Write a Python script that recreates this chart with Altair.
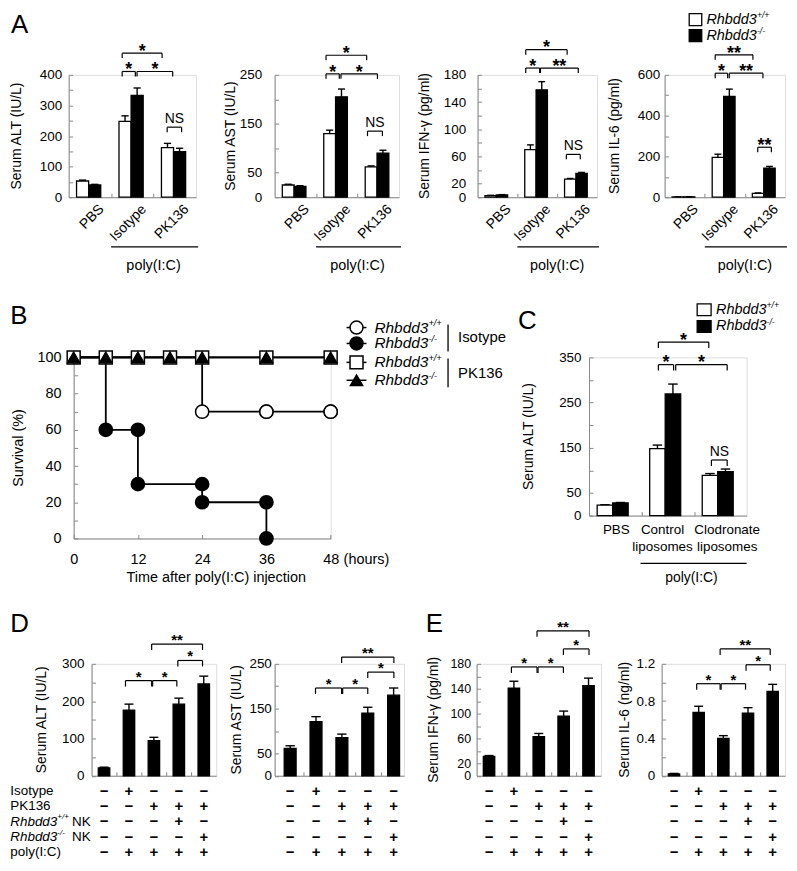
import altair as alt
import pandas as pd

FONT = "Liberation Sans"
WHITE = "#ffffff"
BLACK = "#000000"

# ---------------- Panel A ----------------
A_GROUPS = ["PBS", "Isotype", "PK136"]
ALT_WT = [53, 248, 162]
ALT_WT_ERR = [3, 18, 14]
ALT_KO = [40, 333, 149]
ALT_KO_ERR = [2, 24, 11]
AST_WT = [25, 130, 62]
AST_WT_ERR = [1.5, 7, 2]
AST_KO = [22, 205, 90]
AST_KO_ERR = [1.5, 16, 6]
IFN_WT = [2.3, 70, 26.6]
IFN_WT_ERR = [0.5, 7, 1]
IFN_KO = [3.3, 158, 35]
IFN_KO_ERR = [0.5, 12, 1.5]
IL6_WT = [2, 195, 19]
IL6_WT_ERR = [0.5, 16, 2]
IL6_KO = [2, 494, 143]
IL6_KO_ERR = [0.5, 36, 8]
# significance brackets: (from, to, level, label)
ALT_BR = [(1.26, 1.57, 411, "*"), (1.61, 2.45, 411, "*"), (1.26, 2.2, 471, "*"), (2.32, 2.66, 229, "NS")]
AST_BR = [(1.24, 1.56, 252, "*"), (1.6, 2.48, 252, "*"), (1.24, 2.22, 290, "*"), (2.24, 2.6, 135, "NS")]
IFN_BR = [(1.21, 1.56, 190, "*"), (1.58, 2.53, 190, "**"), (1.21, 2.25, 217, "*"), (2.23, 2.58, 63, "NS")]
IL6_BR = [(1.26, 1.57, 608, "*"), (1.61, 2.45, 608, "**"), (1.26, 2.2, 698, "**"), (2.32, 2.66, 245, "**")]

# ---------------- Panel B (survival, %) ----------------
B_TIME_WT_ISO = [0, 24, 36, 48]
B_SURV_WT_ISO = [100, 70, 70, 70]
B_TIME_KO_ISO = [0, 6, 12, 24, 36]
B_SURV_KO_ISO = [100, 60, 30, 20, 0]
B_TIME_PK = [0, 6, 12, 18, 24, 36, 48]
B_SURV_PK_WT = [100, 100, 100, 100, 100, 100, 100]
B_SURV_PK_KO = [100, 100, 100, 100, 100, 100, 100]

# ---------------- Panel C ----------------
C_LINE1 = ["PBS", "Control", "Clodronate"]
C_LINE2 = ["", "liposomes", "liposomes"]
C_LABEL_X = [0.52, 1.4, 2.63]
C_WT = [23, 148, 89]
C_WT_ERR = [1, 8, 4]
C_KO = [28, 269, 97]
C_KO_ERR = [1, 22, 6]
C_BR = [(1.32, 1.61, 334, "*"), (1.65, 2.63, 334, "*"), (1.32, 2.28, 384, "*"), (2.33, 2.63, 123, "NS")]

# ---------------- Panels D / E ----------------
D_ALT = [21, 176, 94, 192, 246]
D_ALT_ERR = [2, 16, 9, 16, 21]
D_AST = [61, 121, 85, 140, 180]
D_AST_ERR = [6, 11, 8, 13, 16]
E_IFN = [31, 141, 63, 96, 145]
E_IFN_ERR = [1.5, 11, 5, 8, 12]
E_IL6 = [0.02, 0.68, 0.40, 0.67, 0.905]
E_IL6_ERR = [0.005, 0.065, 0.03, 0.06, 0.075]
D_ALT_BR = [(1.36, 2.41, 255, "*"), (2.45, 3.42, 255, "*"), (3.46, 4.45, 309, "*"), (2.41, 4.45, 353, "**")]
D_AST_BR = [(1.48, 2.49, 196, "*"), (2.53, 3.5, 196, "*"), (3.5, 4.51, 231.5, "*"), (2.49, 4.51, 265, "**")]
E_IFN_BR = [(1.4, 2.43, 175, "*"), (2.47, 3.49, 175, "*"), (3.49, 4.52, 204, "*"), (2.43, 4.52, 233, "**")]
E_IL6_BR = [(1.42, 2.37, 0.987, "*"), (2.41, 3.4, 0.987, "*"), (3.42, 4.4, 1.19, "*"), (2.37, 4.4, 1.36, "**")]
TABLE_ROWS = ["Isotype", "PK136", "Rhbdd3 +/+ NK", "Rhbdd3 -/- NK", "poly(I:C)"]
T_ISOTYPE = [0, 1, 0, 0, 0]
T_PK136 = [0, 0, 1, 1, 1]
T_WT_NK = [0, 0, 0, 1, 0]
T_KO_NK = [0, 0, 0, 0, 1]
T_POLY = [0, 1, 1, 1, 1]
TABLE = [T_ISOTYPE, T_PK136, T_WT_NK, T_KO_NK, T_POLY]
ROW_DY = [15, 30.5, 46, 61.5, 77]


# ---------------- helpers ----------------
def one():
    return alt.Data(values=[{"s": 0}])


def spacer(W, H, L, R, T, B):
    return alt.Chart(one()).mark_rule(opacity=0, strokeWidth=0).encode(
        x=alt.value(-L), x2=alt.value(W + R), y=alt.value(-T), y2=alt.value(H + B))


def dummy(H, T, B):
    # thin empty first column so that every row starts at the same left edge
    return alt.layer(spacer(1, H, 0, 0, T, B)).properties(
        width=1, height=H,
        view=alt.ViewBackground(stroke="transparent", strokeWidth=0, fill="transparent"))


def label(text, x, y, size=14, align="center", baseline="middle", angle=0,
          style="normal", weight="normal"):
    return alt.Chart(alt.Data(values=[{"t": text}])).mark_text(
        font=FONT, fontSize=size, align=align, baseline=baseline, angle=angle,
        fontStyle=style, fontWeight=weight, color=BLACK).encode(
        x=alt.value(x), y=alt.value(y), text="t:N")


def geno(x, y, sup, size=15, tail=""):
    w = 3.5 * size
    layers = [label("Rhbdd3", x, y, size, align="left", style="italic"),
              label(sup, x + w, y - size * 0.3, size * 0.6, align="left", style="italic")]
    if tail:
        layers.append(label(tail, x + w + size * 1.1, y, size, align="left"))
    return layers


def box(x1, x2, y1, y2, fill):
    return alt.Chart(one()).mark_rect(fill=fill, stroke=BLACK, strokeWidth=1.3).encode(
        x=alt.value(x1), x2=alt.value(x2), y=alt.value(y1), y2=alt.value(y2))


def yaxis(values, shown, pad, size=13.5):
    cond = " || ".join("datum.value == %s" % v for v in shown)
    return alt.Axis(values=values, labelExpr="(%s) ? ('' + datum.value) : ''" % cond,
                    title=None, grid=False, tickSize={"expr": "-4"}, labelPadding=pad,
                    labelOverlap=False, labelFlush=False, labelFontSize=size)


def xaxis(values):
    return alt.Axis(values=values, labels=False, title=None, grid=False,
                    tickSize={"expr": "-4"})


def grouped_df(wt, wt_err, ko, ko_err, center, bw, capw):
    rows = []
    for g in range(len(wt)):
        for k, (vals, errs, fill) in enumerate([(wt, wt_err, WHITE), (ko, ko_err, BLACK)]):
            c = g + center + (k - 0.5) * bw
            rows.append(dict(xa=c - bw / 2, xb=c + bw / 2, xc=c, ca=c - capw / 2, cb=c + capw / 2,
                             v=vals[g], top=vals[g] + errs[g], zero=0, fill=fill))
    return pd.DataFrame(rows)


def single_df(vals, errs, bw, capw):
    rows = []
    for i, (v, e) in enumerate(zip(vals, errs)):
        c = i + 0.5
        rows.append(dict(xa=c - bw / 2, xb=c + bw / 2, xc=c, ca=c - capw / 2, cb=c + capw / 2,
                         v=v, top=v + e, zero=0, fill=BLACK))
    return pd.DataFrame(rows)


def bar_cell(df, xdom, ydom, W, H, yvals, yshown, lpad, xticks, brackets, drop_px,
             star_size, star_dy, frame, ytitle, ytitle_x, extras=None, tick_font=13.5):
    xs = alt.Scale(domain=xdom, nice=False, zero=False)
    ys = alt.Scale(domain=ydom, nice=False, zero=False)
    xax = xaxis(xticks)
    yax = yaxis(yvals, yshown, lpad, tick_font)

    def X(f):
        return alt.X(f + ":Q", scale=xs, axis=xax)

    def Y(f):
        return alt.Y(f + ":Q", scale=ys, axis=yax)

    base = alt.Chart(df)
    layers = [
        spacer(W, H, *frame),
        base.mark_rule(color=BLACK, strokeWidth=1.4).encode(x=X("xc"), y=Y("v"), y2=alt.Y2("top")),
        base.mark_rule(color=BLACK, strokeWidth=1.4).encode(x=X("ca"), x2=alt.X2("cb"), y=Y("top")),
        base.mark_rect(stroke=BLACK, strokeWidth=1.3).encode(
            x=X("xa"), x2=alt.X2("xb"), y=Y("zero"), y2=alt.Y2("v"),
            fill=alt.Fill("fill:N", scale=None)),
    ]
    drop = drop_px * (ydom[1] - ydom[0]) / H
    segs, labs = [], []
    for (a, b, lv, lab) in brackets:
        segs.append(dict(bx=a, bx2=b, by=lv, by2=lv))
        segs.append(dict(bx=a, bx2=a, by=lv, by2=lv - drop))
        segs.append(dict(bx=b, bx2=b, by=lv, by2=lv - drop))
        labs.append(dict(xm=(a + b) / 2, ly=lv, lab=lab))
    layers.append(alt.Chart(pd.DataFrame(segs)).mark_rule(color=BLACK, strokeWidth=1.2).encode(
        x=X("bx"), x2=alt.X2("bx2"), y=Y("by"), y2=alt.Y2("by2")))
    ldf = pd.DataFrame(labs)
    sdf = ldf[ldf["lab"] != "NS"]
    ndf = ldf[ldf["lab"] == "NS"]
    if len(sdf):
        layers.append(alt.Chart(sdf).mark_text(font=FONT, fontSize=star_size, fontWeight="bold",
                                               baseline="alphabetic", dy=star_dy, color=BLACK).encode(
            x=X("xm"), y=Y("ly"), text="lab:N"))
    if len(ndf):
        layers.append(alt.Chart(ndf).mark_text(font=FONT, fontSize=14, baseline="alphabetic",
                                               dy=-4.4, color=BLACK).encode(
            x=X("xm"), y=Y("ly"), text="lab:N"))
    layers.append(label(ytitle, ytitle_x, H / 2, 14, angle=270))
    if extras:
        layers.extend(extras(X, H))
    return alt.layer(*layers).properties(width=W, height=H)


def a_extras(X, H):
    lab = pd.DataFrame({"lx": [g + 0.78 for g in range(len(A_GROUPS))], "name": A_GROUPS})
    cat = alt.Chart(lab).mark_text(font=FONT, fontSize=14, angle=315, align="right",
                                   baseline="middle", color=BLACK).encode(
        x=X("lx"), y=alt.value(H + 10), text="name:N")
    pr = alt.Chart(pd.DataFrame({"p0": [1.0], "p1": [3.05]})).mark_rule(color=BLACK, strokeWidth=1.3).encode(
        x=X("p0"), x2=alt.X2("p1"), y=alt.value(H + 50))
    pt = alt.Chart(pd.DataFrame({"px": [2.0], "t": ["poly(I:C)"]})).mark_text(
        font=FONT, fontSize=14.5, baseline="middle", color=BLACK).encode(
        x=X("px"), y=alt.value(H + 69), text="t:N")
    return [cat, pr, pt]


def c_extras(X, H):
    lab = pd.DataFrame({"lx": C_LABEL_X, "l1": C_LINE1, "l2": C_LINE2})
    t1 = alt.Chart(lab).mark_text(font=FONT, fontSize=13.5, baseline="middle", color=BLACK).encode(
        x=X("lx"), y=alt.value(H + 15), text="l1:N")
    t2 = alt.Chart(lab).mark_text(font=FONT, fontSize=13.5, baseline="middle", color=BLACK).encode(
        x=X("lx"), y=alt.value(H + 31.5), text="l2:N")
    pr = alt.Chart(pd.DataFrame({"p0": [0.98], "p1": [3.0]})).mark_rule(color=BLACK, strokeWidth=1.3).encode(
        x=X("p0"), x2=alt.X2("p1"), y=alt.value(H + 48))
    pt = alt.Chart(pd.DataFrame({"px": [1.95], "t": ["poly(I:C)"]})).mark_text(
        font=FONT, fontSize=14, baseline="middle", color=BLACK).encode(
        x=X("px"), y=alt.value(H + 63), text="t:N")
    return [t1, t2, pr, pt]


def table_extras(X, H):
    out = []
    for r, row in enumerate(TABLE):
        df = pd.DataFrame({"tx": [i + 0.5 for i in range(len(row))],
                           "sg": ["+" if v else "\u2212" for v in row]})
        out.append(alt.Chart(df).mark_text(font=FONT, fontSize=15, fontWeight="bold",
                                           baseline="middle", color=BLACK).encode(
            x=X("tx"), y=alt.value(H + ROW_DY[r]), text="sg:N"))
    return out


# ---------------- Row 1 : panel A ----------------
HA = 123
TA, BA = 63, 102


def a_cell(wt, wte, ko, koe, br, ydom, yvals, yshown, lpad, W, L, R, ytitle, tx, more=None):
    df = grouped_df(wt, wte, ko, koe, 0.47, 0.285, 0.17)
    return bar_cell(df, [0, 3], ydom, W, HA, yvals, yshown, lpad, [1, 2], br, 5, 18, 3.8,
                    (L, R, TA, BA), ytitle, tx,
                    extras=lambda X, H: a_extras(X, H) + (more or []))


a1 = a_cell(ALT_WT, ALT_WT_ERR, ALT_KO, ALT_KO_ERR, ALT_BR, [0, 400],
            [0, 50, 100, 150, 200, 250, 300, 350, 400], [0, 100, 200, 300, 400], 11,
            128, 58, 15, "Serum ALT (IU/L)", -52,
            more=[label("A", -58, -42, 26, align="left", baseline="alphabetic")])
a2 = a_cell(AST_WT, AST_WT_ERR, AST_KO, AST_KO_ERR, AST_BR, [0, 250],
            [0, 50, 100, 150, 200, 250], [0, 50, 150, 250], 17,
            125, 62, 10, "Serum AST (IU/L)", -44)
a3 = a_cell(IFN_WT, IFN_WT_ERR, IFN_KO, IFN_KO_ERR, IFN_BR, [0, 180],
            [0, 20, 40, 60, 80, 100, 120, 140, 160, 180], [0, 20, 60, 100, 140, 180], 16,
            120, 67, 5, "Serum IFN-\u03b3 (pg/ml)", -53)
legA = [box(24.7, 37.3, -61.5, -49.5, WHITE), box(24.7, 37.3, -45.5, -33.5, BLACK)]
legA += geno(42, -55.5, "+/+", 14.5) + geno(42, -39.5, "-/-", 14.5)
a4 = a_cell(IL6_WT, IL6_WT_ERR, IL6_KO, IL6_KO_ERR, IL6_BR, [0, 600],
            [0, 100, 200, 300, 400, 500, 600], [0, 200, 400, 600], 9,
            121, 61, 2, "Serum IL-6 (pg/ml)", -50, more=legA)

# ---------------- Row 2 : panel B ----------------
WB, HB = 258.3, 182
T2 = 57
bxs = alt.Scale(domain=[0, 48], nice=False, zero=False)
bys = alt.Scale(domain=[0, 100], nice=False, zero=False)
bxax = alt.Axis(values=[0, 12, 24, 36, 48], title=None, grid=False, tickSize={"expr": "-4"},
                labelPadding=18.5, labelFontSize=14.5, labelFlush=False, labelAngle=0)
byax = yaxis([0, 10, 20, 30, 40, 50, 60, 70, 80, 90, 100], [0, 20, 40, 60, 80, 100], 16.7, 14.5)


def BX(f):
    return alt.X(f + ":Q", scale=bxs, axis=bxax)


def BY(f):
    return alt.Y(f + ":Q", scale=bys, axis=byax)


def km_markers(times, surv):
    pts = []
    for i in range(1, len(times)):
        for s in (surv[i - 1], surv[i]):
            if s < 100:
                pts.append({"t": times[i], "s": s})
    return pd.DataFrame(pts)


lines_df = pd.concat([
    pd.DataFrame({"t": B_TIME_WT_ISO, "s": B_SURV_WT_ISO, "series": "wt_iso"}),
    pd.DataFrame({"t": B_TIME_KO_ISO, "s": B_SURV_KO_ISO, "series": "ko_iso"}),
    pd.DataFrame({"t": B_TIME_PK, "s": B_SURV_PK_WT, "series": "wt_pk"}),
    pd.DataFrame({"t": B_TIME_PK, "s": B_SURV_PK_KO, "series": "ko_pk"}),
])


def pts_layer(df, shape, fill, size):
    return alt.Chart(df).mark_point(shape=shape, filled=True, fill=fill, stroke=BLACK,
                                    strokeWidth=1.5, size=size, opacity=1).encode(
        x=BX("t"), y=BY("s"))


def leg_pt(x, y, shape, fill, size):
    return alt.Chart(one()).mark_point(shape=shape, filled=True, fill=fill, stroke=BLACK,
                                       strokeWidth=1.5, size=size, opacity=1).encode(
        x=alt.value(x), y=alt.value(y))


def hrule(x1, x2, y, w=1.5):
    return alt.Chart(one()).mark_rule(color=BLACK, strokeWidth=w).encode(
        x=alt.value(x1), x2=alt.value(x2), y=alt.value(y))


def vrule(x, y1, y2, w=1.3):
    return alt.Chart(one()).mark_rule(color=BLACK, strokeWidth=w).encode(
        x=alt.value(x), y=alt.value(y1), y2=alt.value(y2))


b_layers = [
    spacer(WB, HB, 63.7, 183, T2, 66),
    alt.Chart(lines_df).mark_line(interpolate="step-after", color=BLACK, strokeWidth=1.8).encode(
        x=BX("t"), y=BY("s"), detail="series:N"),
    pts_layer(km_markers(B_TIME_WT_ISO, B_SURV_WT_ISO), "circle", WHITE, 177),
    pts_layer(km_markers(B_TIME_KO_ISO, B_SURV_KO_ISO), "circle", BLACK, 177),
    pts_layer(pd.DataFrame({"t": B_TIME_PK, "s": B_SURV_PK_WT}), "square", WHITE, 170),
    pts_layer(pd.DataFrame({"t": B_TIME_PK, "s": B_SURV_PK_KO}), "triangle-up", BLACK, 150),
    label("Survival (%)", -54.7, HB / 2, 14.5, angle=270),
    label("Time after poly(I:C) injection", 143.3, HB + 40, 14.5),
    label("(hours)", WB + 13, HB + 21.5, 14.5, align="left"),
    label("B", -63.7, -34, 26, align="left", baseline="alphabetic"),
]
leg_rows = [(-30, "circle", WHITE, "+/+"), (-14, "circle", BLACK, "-/-"),
            (5, "square", WHITE, "+/+"), (23, "triangle-up", BLACK, "-/-")]
for (ly, shp, fl, sup) in leg_rows:
    b_layers.append(hrule(274.3, 294.3, ly))
    b_layers.append(leg_pt(284.3, ly, shp, fl, 150 if shp == "triangle-up" else 170))
    b_layers += geno(302.3, ly, sup, 15.5)
b_layers += [vrule(376.3, -33, -6), vrule(376.3, 1, 30),
             label("Isotype", 386.3, -20, 15, align="left"),
             label("PK136", 386.3, 16, 15, align="left")]
bcell = alt.layer(*b_layers).properties(width=WB, height=HB)

# ---------------- Row 2 : panel C ----------------
WC, HC = 158.4, 159
legC = [box(108.7, 122.7, -53.7, -42, WHITE), box(108.7, 122.7, -37, -25.3, BLACK)]
legC += geno(127.7, -47.9, "+/+", 14.5) + geno(127.7, -31.2, "-/-", 14.5)
legC.append(label("C", -71.3, -29, 26, align="left", baseline="alphabetic"))
ccell = bar_cell(grouped_df(C_WT, C_WT_ERR, C_KO, C_KO_ERR, 0.45, 0.295, 0.18),
                 [0, 3], [0, 350], WC, HC, [0, 50, 100, 150, 200, 250, 300, 350],
                 [0, 50, 150, 250, 350], 12, [1, 2], C_BR, 6, 18, 3.8,
                 (75.3, 35.3, T2, 89), "Serum ALT (IU/L)", -60,
                 extras=lambda X, H: c_extras(X, H) + legC)

# ---------------- Row 3 : panels D and E ----------------
HD = 112.5
TD, BD = 58, 83.5


def d_cell(vals, errs, br, xdom, ydom, yvals, yshown, lpad, W, L, R, ytitle, tx, more=None,
           tick_font=13.5):
    df = single_df(vals, errs, 0.46, 0.36)
    return bar_cell(df, xdom, ydom, W, HD, yvals, yshown, lpad, [1, 2, 3, 4], br, 6, 15, 1,
                    (L, R, TD, BD), ytitle, tx,
                    extras=lambda X, H: table_extras(X, H) + (more or []), tick_font=tick_font)


row_labels = [label("D", -81.7, -32, 26, align="left", baseline="alphabetic")]
for r, name in enumerate(TABLE_ROWS):
    yy = HD + ROW_DY[r]
    if name.startswith("Rhbdd3"):
        row_labels += geno(-81.7, yy, name.split(" ")[1], 13.5, tail="NK")
    else:
        row_labels.append(label(name, -81.7, yy, 13.5, align="left"))

d1 = d_cell(D_ALT, D_ALT_ERR, D_ALT_BR, [0, 5], [0, 300], [0, 50, 100, 150, 200, 250, 300],
            [0, 100, 200, 300], 11.7, 125.3, 81.7, 4, "Serum ALT (IU/L)", -50, more=row_labels)
d2 = d_cell(D_AST, D_AST_ERR, D_AST_BR, [-0.1, 4.9], [0, 250], [0, 50, 100, 150, 200, 250],
            [0, 50, 150, 250], 7.3, 130, 53.3, 6.7, "Serum AST (IU/L)", -38)
e1 = d_cell(E_IFN, E_IFN_ERR, E_IFN_BR, [0, 5], [0, 180],
            [0, 20, 40, 60, 80, 100, 120, 140, 160, 180], [0, 20, 60, 100, 140, 180], 10,
            125, 64, 5, "Serum IFN-\u03b3 (pg/ml)", -43,
            more=[label("E", -51, -32, 26, align="left", baseline="alphabetic")], tick_font=12.5)
e2 = d_cell(E_IL6, E_IL6_ERR, E_IL6_BR, [0, 5], [0, 1.2], [0, 0.2, 0.4, 0.6, 0.8, 1.0, 1.2],
            [0, 0.4, 0.8, 1.2], 11, 124, 54, 1, "Serum IL-6 (ng/ml)", -37)

row1 = alt.hconcat(dummy(HA, TA, BA), a1, a2, a3, a4, spacing=0)
row2 = alt.hconcat(dummy(HB, T2, 66), bcell, ccell, spacing=0)
row3 = alt.hconcat(dummy(HD, TD, BD), d1, d2, e1, e2, spacing=0)

chart = alt.vconcat(row1, row2, row3, spacing=0).properties(padding=0).configure_view(
    stroke=None, strokeWidth=0).configure_axis(
    domainColor=BLACK, domainWidth=1.5, tickColor=BLACK, tickWidth=1.3,
    labelColor=BLACK, labelFont=FONT).configure(font=FONT)

chart.save("out.html", embed_options={"renderer": "svg", "actions": False})
